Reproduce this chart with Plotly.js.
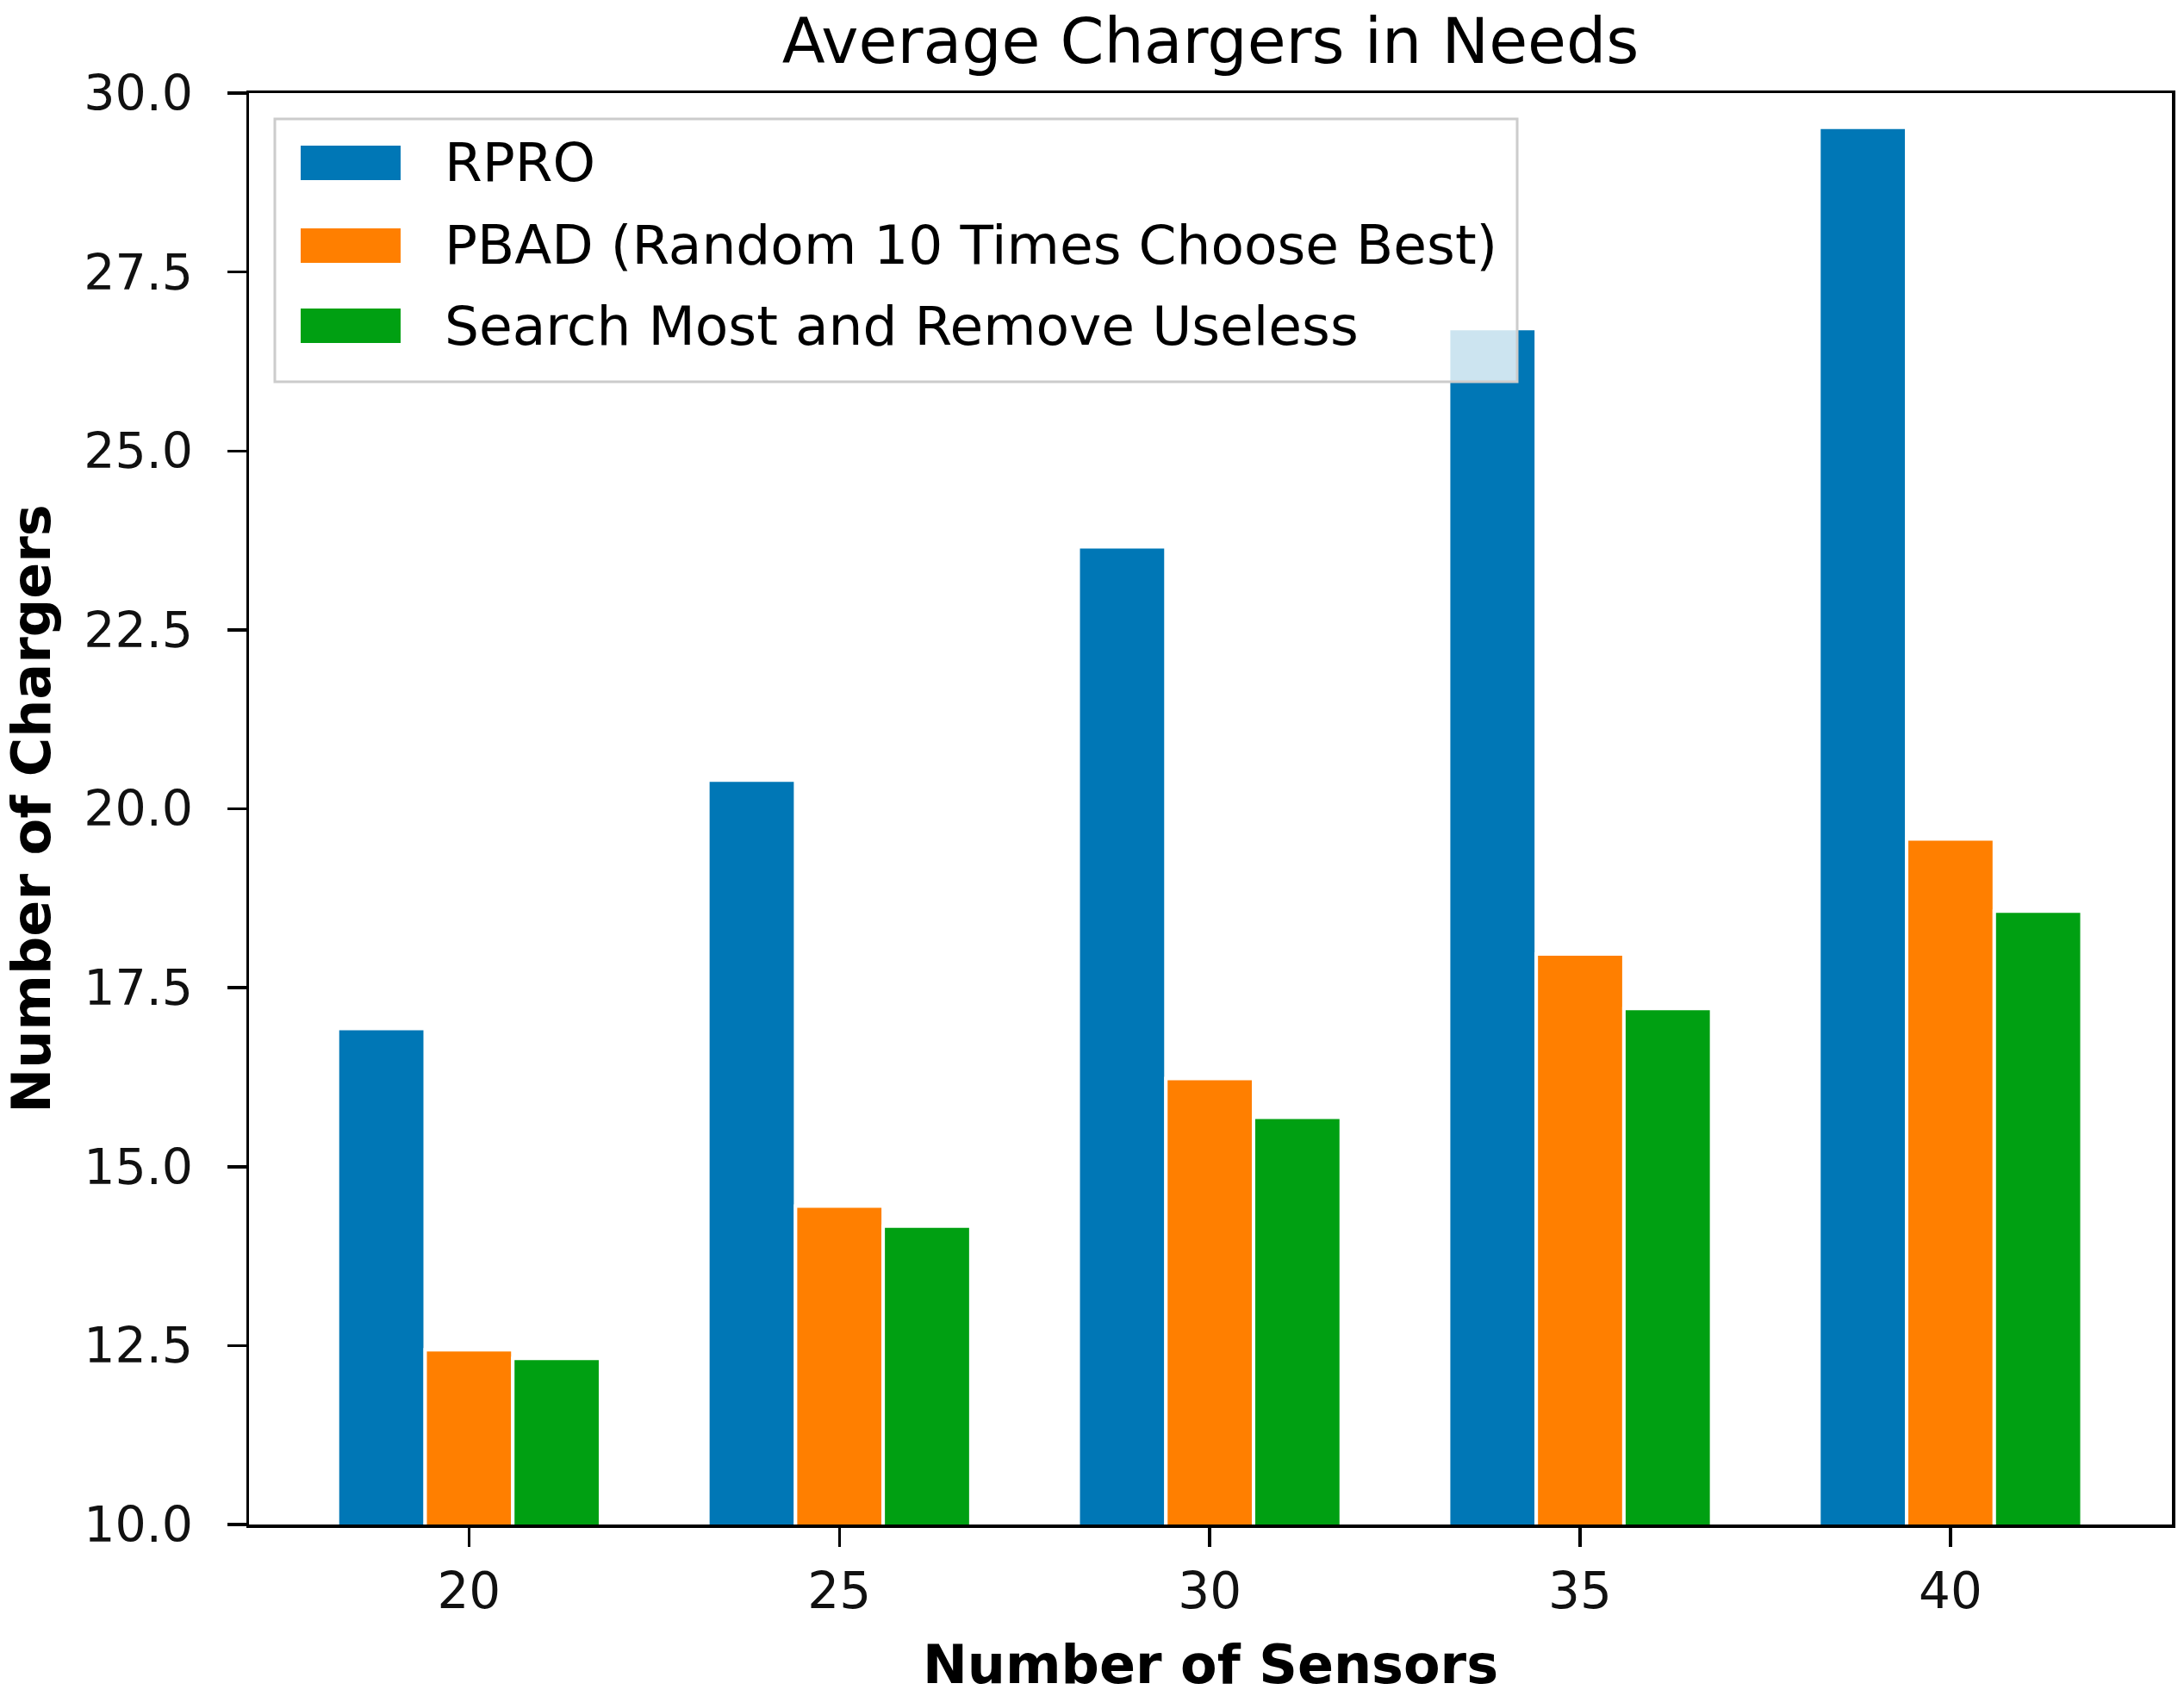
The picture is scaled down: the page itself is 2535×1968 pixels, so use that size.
<!DOCTYPE html>
<html>
<head>
<meta charset="utf-8">
<script src="https://cdn.plot.ly/plotly-3.0.1.min.js"></script>
<style>html,body{margin:0;padding:0;background:#fff;}#chart{width:2535px;height:1968px;}</style>
</head>
<body>
<div id="chart"></div>
<script>
// ---- data ----
const sensors = [20, 25, 30, 35, 40];
const rpro = [16.93, 20.40, 23.66, 26.71, 29.52];
const pbad = [12.44, 14.45, 16.23, 17.97, 19.58];
const smru = [12.32, 14.17, 15.69, 17.21, 18.57];
const seriesNames = ["RPRO", "PBAD (Random 10 Times Choose Best)", "Search Most and Remove Useless"];
const seriesColors = ["#0077b6", "#ff7f00", "#00a012"];
const yTicks = [10, 12.5, 15, 17.5, 20, 22.5, 25, 27.5, 30];

// ---- geometry (pixels) ----
const W = 2535, H = 1968;
const L = 289, R = 2521, T = 108, B = 1769;
const pw = R - L, ph = B - T;
const px = x => (x - L) / pw;
const py = y => (B - y) / ph;

const FONT = "DejaVu Sans, Liberation Sans, sans-serif";
const series = [rpro, pbad, smru];

const traces = series.map((vals, i) => ({
  type: "bar",
  x: sensors,
  y: vals,
  name: seriesNames[i],
  marker: { color: seriesColors[i], line: { color: "#ffffff", width: 4 } },
  showlegend: false
}));

// custom legend (matplotlib-style large swatches)
const legBox = { x0: 319, x1: 1761, y0: 138, y1: 443 };
const rowY = [189, 285, 378];
const shapes = [{
  type: "rect", xref: "paper", yref: "paper", layer: "above",
  x0: px(legBox.x0), x1: px(legBox.x1), y0: py(legBox.y1), y1: py(legBox.y0),
  fillcolor: "rgba(255,255,255,0.8)", line: { color: "#cccccc", width: 3 }
}];
const annotations = [];
seriesNames.forEach((nm, i) => {
  shapes.push({
    type: "rect", xref: "paper", yref: "paper", layer: "above",
    x0: px(349), x1: px(465), y0: py(rowY[i] + 20), y1: py(rowY[i] - 20),
    fillcolor: seriesColors[i], line: { width: 0 }
  });
  annotations.push({
    xref: "paper", yref: "paper", x: px(514), y: py(rowY[i]),
    xanchor: "left", yanchor: "middle", showarrow: false,
    text: nm, font: { family: FONT, size: 63, color: "#000" }
  });
});

const layout = {
  width: W, height: H,
  margin: { l: L, r: W - R, t: T, b: H - B, pad: 0 },
  paper_bgcolor: "#ffffff", plot_bgcolor: "#ffffff",
  barmode: "group", bargap: 0.29, bargroupgap: 0,
  title: {
    text: "Average Chargers in Needs",
    font: { family: FONT, size: 73, color: "#000" },
    xref: "paper", x: 0.5, xanchor: "center",
    yref: "container", y: 1 - 47 / H, yanchor: "middle"
  },
  xaxis: {
    range: [17.03, 42.99], tickvals: sensors, ticktext: sensors.map(String),
    showline: true, mirror: true, linecolor: "#000", linewidth: 3.5,
    ticks: "outside", ticklen: 22, tickwidth: 3.5, tickcolor: "#000",
    ticklabelstandoff: 2,
    showgrid: false, zeroline: false,
    tickfont: { family: FONT, size: 58, color: "#111" },
    title: { text: "Number of Sensors", standoff: 34,
      font: { family: FONT, size: 62, color: "#000", weight: "bold" } }
  },
  yaxis: {
    range: [10, 30], tickvals: yTicks, ticktext: yTicks.map(v => v.toFixed(1)),
    showline: true, mirror: true, linecolor: "#000", linewidth: 3.5,
    ticks: "outside", ticklen: 22, tickwidth: 3.5, tickcolor: "#000",
    ticklabelstandoff: 28,
    showgrid: false, zeroline: false,
    tickfont: { family: FONT, size: 57, color: "#111" },
    title: { text: "Number of Chargers", standoff: 30,
      font: { family: FONT, size: 62, color: "#000", weight: "bold" } }
  },
  shapes: shapes,
  annotations: annotations
};

Plotly.newPlot("chart", traces, layout, { staticPlot: true, displayModeBar: false });
</script>
</body>
</html>
